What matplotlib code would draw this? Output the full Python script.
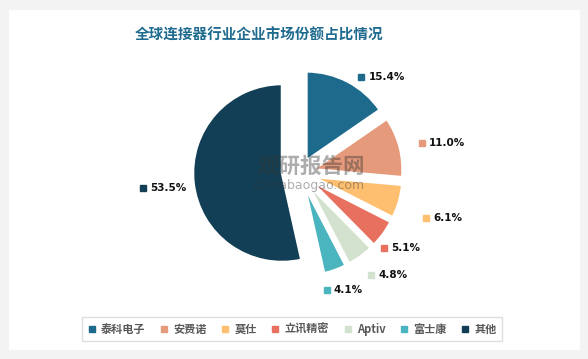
import numpy as np
import matplotlib.pyplot as plt
from matplotlib.patches import Rectangle
from matplotlib.lines import Line2D
from matplotlib.transforms import Affine2D

plt.rcParams['font.family'] = ['Noto Sans CJK SC', 'DejaVu Sans']
plt.rcParams['hatch.linewidth'] = 0.6
plt.rcParams['hatch.color'] = '#f0f0f0'

# data
companies = ['泰科电子', '安费诺', '莫仕', '立讯精密', 'Aptiv', '富士康', '其他']
shares = [15.4, 11.0, 6.1, 5.1, 4.8, 4.1, 53.5]
colors = ['#1d6a8d', '#e59a7c', '#fec070', '#e8705f', '#d3e2cf', '#4ab4bf', '#123f55']
title = '全球连接器行业企业市场份额占比情况'

# layout
W, H = 588, 359
R_PX = 89.0
cx, cy = 282, 173
shift = 0.2  # small slices pushed right (in radius units)
explode = [0.16] * 6 + [0.0]
label_r = [1.28, 1.41, 1.51, 1.27, 1.40, 1.35, 1.57]
label_dang = [-5, -1, -3.5, -5.6, -1, -7, 0]

fig = plt.figure(figsize=(W / 100, H / 100), dpi=100)
fig.patch.set_facecolor('#f3f3f3')

# white panel with faint diagonal lines
panel = Rectangle((9 / W, 1 - 350 / H), 571 / W, 340 / H, transform=fig.transFigure,
                  facecolor='white', edgecolor='none', hatch='\\\\\\\\', zorder=-5)
fig.patches.append(panel)

# pie axes: 1 unit = R_PX pixels, centre at (cx, cy)
aw, ah = 400, 300
ax = fig.add_axes([(cx - aw / 2) / W, 1 - (cy + ah / 2) / H, aw / W, ah / H])
ax.patch.set_alpha(0)

wedges, _ = ax.pie(shares, colors=colors, startangle=90, counterclock=False,
                   explode=explode, radius=1,
                   wedgeprops=dict(edgecolor='white', linewidth=1.8))
for w in wedges[:-1]:
    w.set_transform(Affine2D().translate(shift, 0) + ax.transData)
ax.set_xlim(-aw / 2 / R_PX, aw / 2 / R_PX)
ax.set_ylim(-ah / 2 / R_PX, ah / 2 / R_PX)
ax.axis('off')

# labels: coloured square + percentage
for i, (w, val, col) in enumerate(zip(wedges, shares, colors)):
    mid = np.deg2rad((w.theta1 + w.theta2) / 2 + label_dang[i])
    ox = shift if i < len(shares) - 1 else 0
    x = ox + label_r[i] * np.cos(mid)
    y = label_r[i] * np.sin(mid)
    ax.plot(x, y, marker='s', markersize=4.2, color=col, linestyle='none')
    ax.text(x + 0.08, y, f'{val:.1f}%', fontsize=7.5, color='#111111',
            fontweight='bold', ha='left', va='center', family='DejaVu Sans')

# watermark
fig.text(311 / W, 1 - 166 / H, '观研报告网', fontsize=15.5, fontweight='bold',
         color='#333333', alpha=0.4, ha='center', va='center')
fig.text(309 / W, 1 - 185 / H, 'chinabaogao.com', fontsize=9,
         color='#333333', alpha=0.4, ha='center', va='center', family='DejaVu Sans')

fig.text(259 / W, 1 - 35 / H, title, fontsize=10.5, fontweight='bold',
         color='#1f6b8f', ha='center', va='center')

handles = [Line2D([], [], marker='s', markersize=4, color=c, linestyle='none')
           for c in colors]
leg = fig.legend(handles, companies, loc='center', ncol=7,
                 bbox_to_anchor=(292 / W, 1 - 329 / H), frameon=True, fancybox=False,
                 edgecolor='#d6d6d6', fontsize=8, handlelength=0.8,
                 handletextpad=0.4, columnspacing=1.3, borderpad=0.5)
leg.get_frame().set_linewidth(1.0)
for t in leg.get_texts():
    t.set_color('#595959')
    t.set_fontweight('bold')

fig.savefig('out.png', dpi=100)
